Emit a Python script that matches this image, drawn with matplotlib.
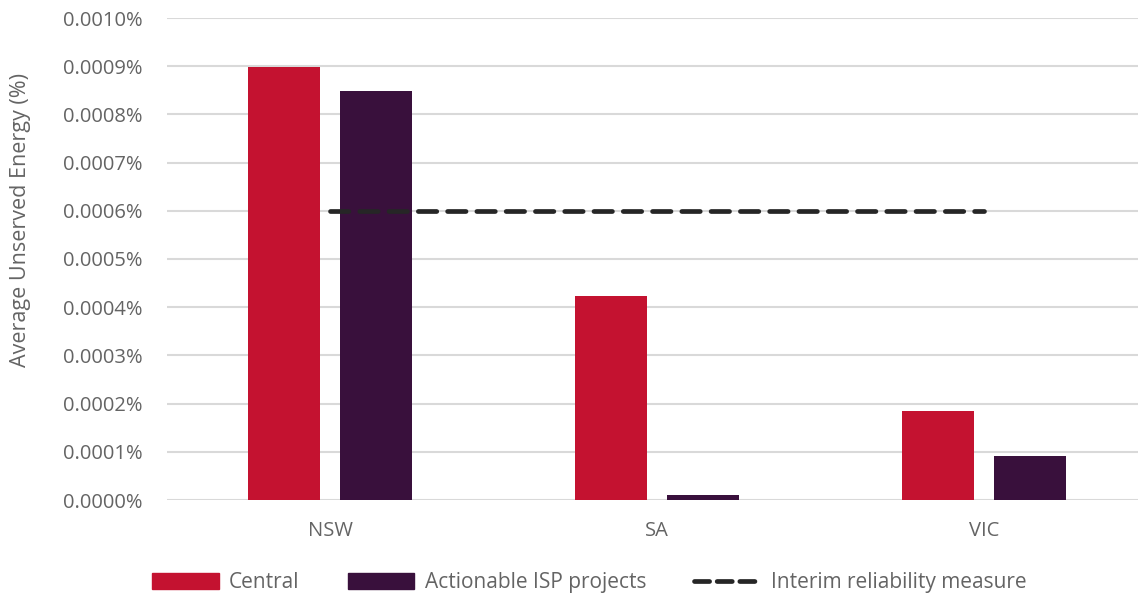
import matplotlib

matplotlib.use("Agg")
import matplotlib.pyplot as plt
import numpy as np
from matplotlib.lines import Line2D
from matplotlib.patches import Patch
from matplotlib.ticker import FuncFormatter

plt.rcParams["font.family"] = ["Open Sans", "DejaVu Sans"]

regions = ["NSW", "SA", "VIC"]
central = [0.000898, 0.000423, 0.000184]
actionable = [0.000849, 0.0000105, 0.0000915]
interim = [0.0006, 0.0006, 0.0006]
yticks = np.arange(0, 0.00101, 0.0001)

RED = "#C41230"
PURPLE = "#39103C"
TXT = "#646464"
GRID = "#D9D9D9"

fig = plt.figure(figsize=(11.38, 5.97), dpi=100)
ax = fig.add_axes([166.5 / 1138, 97 / 597, 981 / 1138, 482 / 597])

x = np.arange(len(regions))
w = 0.22
ax.bar(x - 0.142, central, w, color=RED, zorder=3)
ax.bar(x + 0.142, actionable, w, color=PURPLE, zorder=3)
ax.plot(x, interim, color="#262626", lw=3.4, ls=(0, (3.9, 2.3)),
        dash_capstyle="round", zorder=4)

ax.set_xlim(-0.5, 2.5)
ax.set_ylim(0, 0.001)
ax.set_yticks(yticks)
ax.yaxis.set_major_formatter(FuncFormatter(lambda v, p: f"{v:.4f}%"))
ax.set_xticks(x)
ax.set_xticklabels(regions)
ax.grid(axis="y", color=GRID, lw=1.5, zorder=0)
for s in ax.spines.values():
    s.set_visible(False)
ax.tick_params(length=0, labelsize=14.5, colors=TXT)
ax.tick_params(axis="y", pad=17)
ax.tick_params(axis="x", pad=15)
ax.set_ylabel("Average Unserved Energy (%)", fontsize=15.5, color=TXT)
ax.yaxis.set_label_coords(-0.138, 0.581)

handles = [
    Patch(color=RED, label="Central"),
    Patch(color=PURPLE, label="Actionable ISP projects"),
    Line2D([], [], color="#262626", lw=3.4, ls=(0, (3.2, 1.6)),
           dash_capstyle="round", label="Interim reliability measure"),
]
leg = fig.legend(handles=handles, loc="center", bbox_to_anchor=(0.518, 0.024),
                 ncol=3, frameon=False, fontsize=15, handlelength=3.2,
                 handleheight=0.75, columnspacing=2.3, handletextpad=0.5)
for t in leg.get_texts():
    t.set_color(TXT)

fig.savefig("out.png", dpi=100)
